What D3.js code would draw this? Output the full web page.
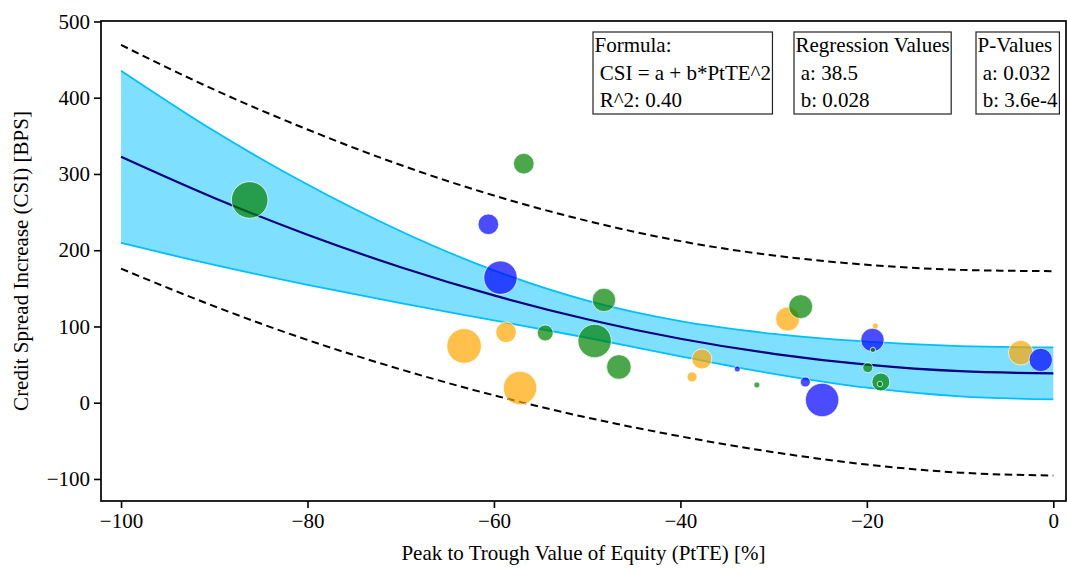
<!DOCTYPE html>
<html>
<head>
<meta charset="utf-8">
<script src="https://cdn.jsdelivr.net/npm/d3@7"></script>
<style>
  body { margin: 0; background: #fff; }
  svg { display: block; }
  text { font-family: "Liberation Serif", "Times New Roman", serif; }
</style>
</head>
<body>
<svg id="chart" width="1067" height="570"></svg>
<script>
// Regression curve and bands, sampled along PtTE
const gridX    = [-100, -90, -80, -70, -60, -50, -40, -30, -20, -10, 0];
const fitCsi   = [322.5, 268.5, 220.3, 177.7, 140.7, 109.5, 83.9, 64.1, 49.9, 41.3, 38.5];
const ciUpper  = [435.5, 356.3, 286.1, 224.9, 173.5, 133.8, 106.9, 90.3, 80.1, 74.3, 72.5];
const ciLower  = [209.5, 180.7, 154.5, 130.5, 107.9, 85.2, 60.9, 37.9, 19.7, 8.3, 4.5];
const piUpper  = [469.2, 410.5, 358.3, 311.7, 271.7, 238.5, 211.9, 193.1, 180.9, 174.3, 172.5];
const piLower  = [175.8, 126.5, 82.3, 43.7, 9.7, -19.5, -44.1, -64.9, -81.1, -91.7, -95.5];

// Observations: PtTE [%], CSI [BPS], bubble weight
const orangePtte = [-58.7, -63.2, -57.2, -38.75, -37.7, -28.5, -19.1, -3.5];
const orangeCsi  = [92.4, 74.4, 19.3, 33.8, 57.4, 109.8, 100.7, 65.6];
const orangeW    = [31.7, 89.4, 83.3, 7.5, 29.9, 43.0, 2.7, 45.2];

const bluePtte = [-60.6, -59.3, -33.9, -26.6, -24.8, -19.4, -1.35];
const blueCsi  = [234.0, 164.0, 44.3, 27.2, 3.6, 82.3, 56.1];
const blueW    = [31.7, 83.3, 2.7, 7.5, 83.3, 40.9, 40.9];

const greenPtte = [-86.2, -56.8, -48.2, -54.5, -49.2, -46.6, -31.8, -27.1, -19.35, -19.9, -18.5, -18.6];
const greenCsi  = [265.9, 313.5, 134.8, 91.5, 81.0, 46.9, 23.3, 126.0, 69.2, 46.0, 27.2, 24.6];
const greenW    = [100, 31.7, 40.9, 19.1, 83.3, 45.2, 2.7, 43.0, 2.2, 7.5, 24.2, 2.2];

const xTicks = [-100, -80, -60, -40, -20, 0];
const yTicks = [-100, 0, 100, 200, 300, 400, 500];

const xTitle = "Peak to Trough Value of Equity (PtTE) [%]";
const yTitle = "Credit Spread Increase (CSI) [BPS]";

const formulaLines    = ["Formula:", " CSI = a + b*PtTE^2", " R^2: 0.40"];
const regressionLines = ["Regression Values", " a: 38.5", " b: 0.028"];
const pValueLines     = ["P-Values", " a: 0.032", " b: 3.6e-4"];

// ---- layout ----
const svg = d3.select("#chart");
const plot = { left: 101, right: 1066, top: 21, bottom: 501 };
const x = d3.scaleLinear().domain([-102.15, 1.36]).range([plot.left, plot.right]);
const y = d3.scaleLinear().domain([-128.9, 500.6]).range([plot.bottom, plot.top]);
const r = d3.scaleSqrt().domain([0, 100]).range([0, 18.3]);
const fontSize = 21;

const clipId = "plot-clip";
svg.append("defs").append("clipPath").attr("id", clipId)
  .append("rect")
  .attr("x", plot.left).attr("y", plot.top)
  .attr("width", plot.right - plot.left).attr("height", plot.bottom - plot.top);

const layer = svg.append("g").attr("clip-path", `url(#${clipId})`);

const rows = gridX.map((gx, i) => ({
  x: gx, fit: fitCsi[i], ciU: ciUpper[i], ciL: ciLower[i], piU: piUpper[i], piL: piLower[i]
}));
const curve = d3.curveMonotoneX;

// confidence band
layer.append("path")
  .datum(rows)
  .attr("d", d3.area().curve(curve).x(d => x(d.x)).y0(d => y(d.ciL)).y1(d => y(d.ciU)))
  .attr("fill", "deepskyblue").attr("fill-opacity", 0.5).attr("stroke", "none");

["ciU", "ciL"].forEach(k => {
  layer.append("path")
    .datum(rows)
    .attr("d", d3.line().curve(curve).x(d => x(d.x)).y(d => y(d[k])))
    .attr("fill", "none").attr("stroke", "deepskyblue").attr("stroke-width", 1.8);
});

// prediction band
["piU", "piL"].forEach(k => {
  layer.append("path")
    .datum(rows)
    .attr("d", d3.line().curve(curve).x(d => x(d.x)).y(d => y(d[k])))
    .attr("fill", "none").attr("stroke", "black").attr("stroke-width", 2)
    .attr("stroke-dasharray", "7.5,4.5");
});

// fitted curve
layer.append("path")
  .datum(rows)
  .attr("d", d3.line().curve(curve).x(d => x(d.x)).y(d => y(d.fit)))
  .attr("fill", "none").attr("stroke", "navy").attr("stroke-width", 2.2);

// bubbles
const groups = [
  { color: "orange", px: orangePtte, py: orangeCsi, w: orangeW },
  { color: "blue",   px: bluePtte,   py: blueCsi,   w: blueW },
  { color: "green",  px: greenPtte,  py: greenCsi,  w: greenW }
];
groups.forEach(g => {
  const pts = g.px.map((v, i) => ({ x: v, y: g.py[i], w: g.w[i] }));
  layer.append("g").selectAll("circle").data(pts).join("circle")
    .attr("cx", d => x(d.x)).attr("cy", d => y(d.y)).attr("r", d => r(d.w))
    .attr("fill", g.color).attr("fill-opacity", 0.7)
    .attr("stroke", "white").attr("stroke-opacity", 0.7).attr("stroke-width", 1);
});

// axes
const xAxis = svg.append("g")
  .attr("transform", `translate(0,${plot.bottom})`)
  .call(d3.axisBottom(x).tickValues(xTicks).tickSize(7).tickPadding(5)
    .tickFormat(d => d3.format("")(d).replace("-", "\u2212")));
const yAxis = svg.append("g")
  .attr("transform", `translate(${plot.left},0)`)
  .call(d3.axisLeft(y).tickValues(yTicks).tickSize(7).tickPadding(4)
    .tickFormat(d => d3.format("")(d).replace("-", "\u2212")));
[xAxis, yAxis].forEach(a => {
  a.select(".domain").remove();
  a.selectAll(".tick line").attr("stroke", "#000").attr("stroke-width", 1.6);
  a.selectAll(".tick text").attr("fill", "#000")
    .style("font-family", '"Liberation Serif", "Times New Roman", serif')
    .style("font-size", fontSize + "px");
});

// frame
svg.append("rect")
  .attr("x", plot.left).attr("y", plot.top)
  .attr("width", plot.right - plot.left).attr("height", plot.bottom - plot.top)
  .attr("fill", "none").attr("stroke", "#000").attr("stroke-width", 1.7);

// axis titles
svg.append("text")
  .attr("x", (plot.left + plot.right) / 2).attr("y", 560)
  .attr("text-anchor", "middle").style("font-size", fontSize + "px")
  .text(xTitle);
svg.append("text")
  .attr("transform", `translate(28,${(plot.top + plot.bottom) / 2}) rotate(-90)`)
  .attr("text-anchor", "middle").style("font-size", fontSize + "px")
  .text(yTitle);

// annotation boxes
const boxes = [
  { left: 593, lines: formulaLines },
  { left: 794, lines: regressionLines },
  { left: 976, lines: pValueLines }
];
const boxTop = 32, boxHeight = 82, lineStep = 27.7, firstBase = 20;
boxes.forEach(b => {
  const g = svg.append("g");
  const rect = g.append("rect");
  const t = g.append("text").style("font-size", fontSize + "px").style("white-space", "pre");
  b.lines.forEach((ln, i) => {
    t.append("tspan").attr("x", b.left + 1.5).attr("y", boxTop + firstBase + i * lineStep).text(ln);
  });
  const bb = t.node().getBBox();
  rect.attr("x", b.left).attr("y", boxTop)
    .attr("width", bb.x + bb.width - b.left + 1.5).attr("height", boxHeight)
    .attr("fill", "white").attr("stroke", "#222").attr("stroke-width", 1.2);
});
</script>
</body>
</html>
